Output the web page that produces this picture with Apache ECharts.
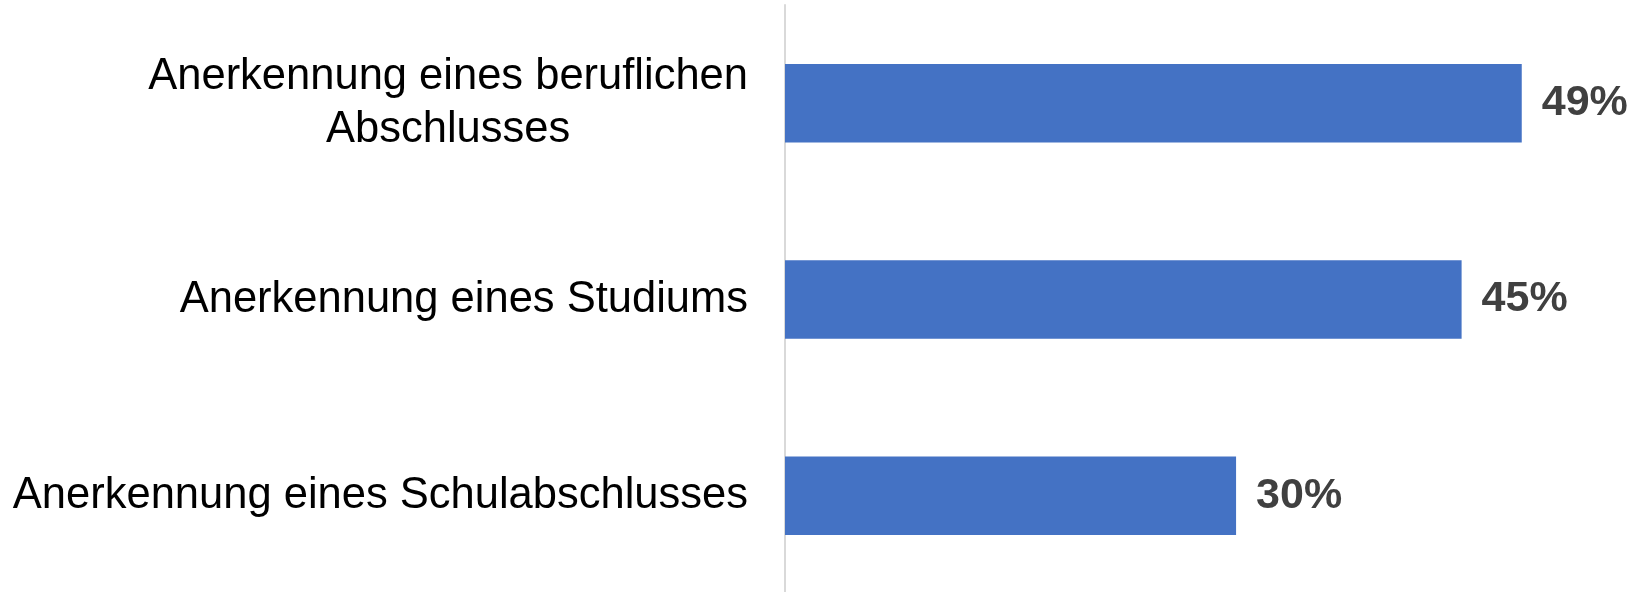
<!DOCTYPE html>
<html>
<head>
<meta charset="utf-8">
<script src="https://cdn.jsdelivr.net/npm/echarts@6/dist/echarts.min.js"></script>
<style>
  html, body { margin: 0; padding: 0; background: #fff; }
  #chart { width: 1635px; height: 592px; }
</style>
</head>
<body>
<div id="chart"></div>
<script>
  // data
  const categories = [
    'Anerkennung eines beruflichen\nAbschlusses',
    'Anerkennung eines Studiums',
    'Anerkennung eines Schulabschlusses'
  ]
  const values = [49, 45, 30]

  const chart = echarts.init(document.getElementById('chart'))
  chart.setOption({
    backgroundColor: '#fff',
    animation: false,
    grid: { left: 785, top: 5, height: 589, width: 842, containLabel: false, outerBoundsMode: 'none' },
    xAxis: {
      type: 'value',
      min: 0,
      max: 56,
      show: false,
      splitLine: { show: false }
    },
    yAxis: {
      type: 'category',
      inverse: true,
      data: categories,
      axisLine: { show: true, lineStyle: { color: '#d9d9d9', width: 2 } },
      axisTick: { show: false },
      axisLabel: {
        margin: 37,
        color: '#000',
        fontFamily: 'Liberation Sans, Arial, sans-serif',
        fontSize: 43.5,
        lineHeight: 53,
        align: 'right',
        formatter: function (v) {
          return v.split('\n').map(function (s) { return '{c|' + s + '}' }).join('\n')
        },
        rich: {
          c: { align: 'center', fontSize: 43.5, lineHeight: 53, color: '#000', fontFamily: 'Liberation Sans, Arial, sans-serif' }
        }
      }
    },
    series: [{
      type: 'bar',
      data: values,
      barCategoryGap: '60%',
      itemStyle: { color: '#4472C4' },
      label: {
        show: true,
        position: 'right',
        distance: 20,
        formatter: '{c}%',
        color: '#404040',
        fontWeight: 'bold',
        fontSize: 43,
        fontFamily: 'Liberation Sans, Arial, sans-serif'
      }
    }]
  })
</script>
</body>
</html>
